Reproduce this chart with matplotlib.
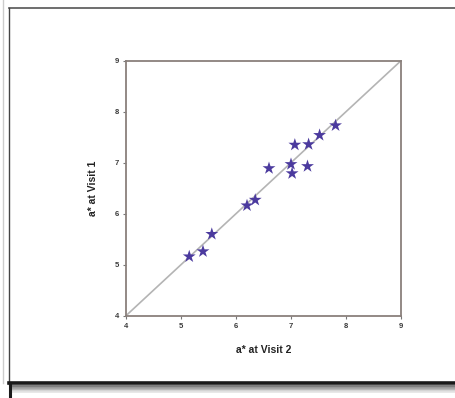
import matplotlib.pyplot as plt
from matplotlib.lines import Line2D

plt.rcParams['font.family'] = ['Liberation Sans', 'DejaVu Sans']

# a* values, visit 2 (x) vs visit 1 (y)
visit2 = [5.15, 5.40, 5.56, 6.20, 6.35, 6.60, 7.00, 7.02, 7.07, 7.32, 7.30, 7.52, 7.81]
visit1 = [5.16, 5.26, 5.60, 6.16, 6.27, 6.89, 6.97, 6.79, 7.35, 7.36, 6.93, 7.54, 7.73]
ticks = [4, 5, 6, 7, 8, 9]

fig = plt.figure(figsize=(4.56, 3.98), dpi=100)
ax = fig.add_axes([0.2763, 0.2068, 0.6031, 0.6407])

# line of identity
ax.plot([4, 9], [4, 9], color='#b4b4b4', lw=1.2, zorder=1)
ax.scatter(visit2, visit1, marker='*', s=95, color='#4b3a9e', edgecolors='none', zorder=3)

ax.set_xlim(4, 9)
ax.set_ylim(4, 9)
ax.set_xticks(ticks)
ax.set_yticks(ticks)
ax.set_xticklabels([str(t) for t in ticks], fontsize=5.5, fontweight='bold', color='#3a3a3a')
ax.set_yticklabels([str(t) for t in ticks], fontsize=5.5, fontweight='bold', color='#3a3a3a')
ax.tick_params(length=2, width=0.8, color='#777777', pad=3)
for sp in ax.spines.values():
    sp.set_color('#8a807c')
    sp.set_linewidth(1.3)

ax.set_xlabel('a* at Visit 2', fontsize=7.5, fontweight='bold', color='#222222', labelpad=11)
ax.set_ylabel('a* at Visit 1', fontsize=7.5, fontweight='bold', color='#222222', labelpad=12)

# page frame around the figure
W, H = 456, 398
def px(x0, y0, x1, y1, **kw):
    fig.add_artist(Line2D([x0 / W, x1 / W], [1 - y0 / H, 1 - y1 / H], transform=fig.transFigure, **kw))

px(9, 8, 456, 8, color='#555555', lw=1.2)
px(9, 8, 9, 384, color='#444444', lw=1.0)
px(3, 0, 3, 383, color='#cccccc', lw=1.0)
px(9, 383, 456, 383, color='#1a1a1a', lw=2.6)
for i, c in enumerate(['#666666', '#888888', '#aaaaaa', '#cccccc', '#e4e4e4']):
    px(12, 386 + i * 1.5, 456, 386 + i * 1.5, color=c, lw=1.2)
px(10, 383, 10, 398, color='#1a1a1a', lw=2.2)

fig.savefig('out.png', dpi=100)
